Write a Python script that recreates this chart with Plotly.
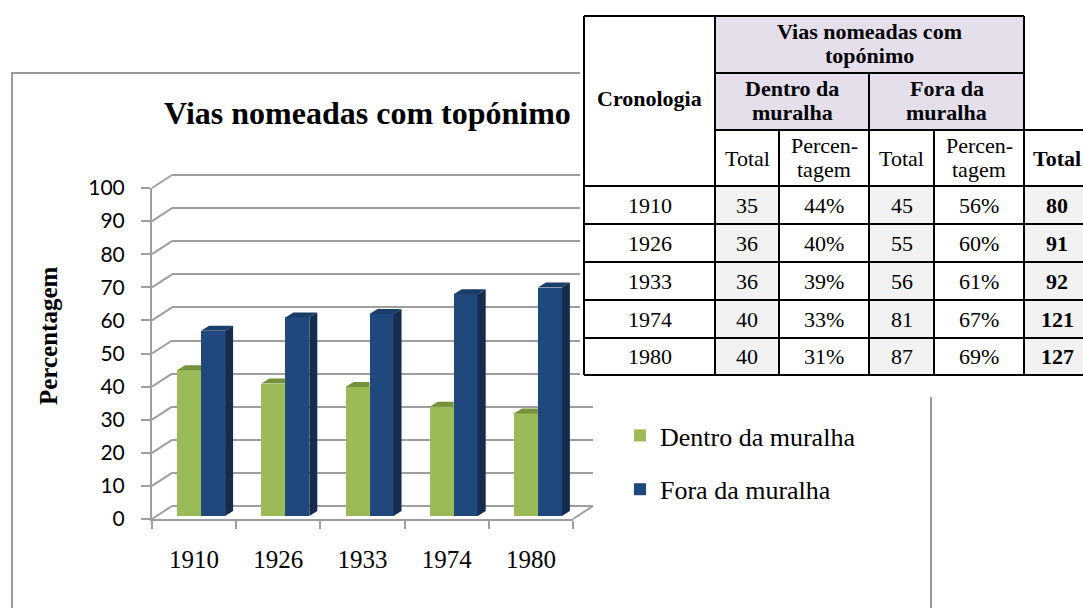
import plotly.graph_objects as go

# ---------------- data ----------------
years = ["1910", "1926", "1933", "1974", "1980"]
dentro_pct = [44, 40, 39, 33, 31]
fora_pct = [56, 60, 61, 67, 69]
dentro_total = [35, 36, 36, 40, 40]
fora_total = [45, 55, 56, 81, 87]
grand_total = [80, 91, 92, 121, 127]
series_names = ["Dentro da muralha", "Fora da muralha"]

# ---------------- geometry helpers ----------------
W, H = 1083, 608
def PX(x): return x / W
def PY(y): return 1 - y / H

SERIF = "Liberation Serif"
SANS = "Lato"
GRID = "#9E9E9E"
GREEN, GREEN_TOP = "#9BBB59", "#76923C"
BLUE, BLUE_TOP, BLUE_SIDE = "#1F497D", "#1B3D69", "#152C4E"

CAT_PX = 84.2      # pixels per category
VAL_PX = 3.31      # pixels per percentage unit

def xdom(left_px, r0=-0.5, r1=4.5):
    return [PX(left_px + (r0 + 0.5) * CAT_PX), PX(left_px + (r1 + 0.5) * CAT_PX)]

def ydom(zero_px, r0, r1):
    return [PY(zero_px - r0 * VAL_PX), PY(zero_px - r1 * VAL_PX)]

pos = list(range(len(years)))

fig = go.Figure()

fig.add_trace(go.Scatter(x=pos, y=[None] * len(pos), xaxis="x", yaxis="y", mode="markers",
                         showlegend=False, hoverinfo="skip"))
fig.add_trace(go.Scatter(x=pos, y=[None] * len(pos), xaxis="x2", yaxis="y2", mode="markers",
                         showlegend=False, hoverinfo="skip"))

# ---------------- bars (front faces) ----------------
BW = 0.285
OG = -0.2565
OB = OG + BW
DDX = 8 / CAT_PX
DDY = 5 / VAL_PX

fig.add_trace(go.Bar(x=pos, y=dentro_pct, width=BW, offset=OG, name=series_names[0],
                     marker=dict(color=GREEN, line=dict(width=0)), xaxis="x3", yaxis="y3",
                     legendgroup="a", hoverinfo="skip"))
fig.add_trace(go.Bar(x=pos, y=fora_pct, width=BW, offset=OB, name=series_names[1],
                     marker=dict(color=BLUE, line=dict(width=0)), xaxis="x3", yaxis="y3",
                     legendgroup="b", hoverinfo="skip"))

gx, gy, btx, bty, bsx, bsy = [], [], [], [], [], []
for i, (vg, vb) in zip(pos, zip(dentro_pct, fora_pct)):
    xl = i + OG; xr = xl + BW
    gx += [xl, xl + DDX, xr, xr, None]
    gy += [vg, vg + DDY, vg + DDY, vg, None]
    xl = i + OB; xr = xl + BW
    btx += [xl, xl + DDX, xr + DDX, xr, None]
    bty += [vb, vb + DDY, vb + DDY, vb, None]
    bsx += [xr, xr + DDX, xr + DDX, xr, None]
    bsy += [0, DDY, vb + DDY, vb, None]

def face(xs, ys, color):
    return go.Scatter(x=xs, y=ys, fill="toself", fillcolor=color, mode="lines",
                      line=dict(width=0, color=color), xaxis="x3", yaxis="y3",
                      showlegend=False, hoverinfo="skip")

fig.add_trace(face(gx, gy, GREEN_TOP))
fig.add_trace(face(btx, bty, BLUE_TOP))
fig.add_trace(face(bsx, bsy, BLUE_SIDE))

# ---------------- axes ----------------
FRONT_X0, FRONT_Y0 = 152, 519
BACK_X0, BACK_Y0 = 172, 506
BAR_X0, BAR_Y0 = 156.6, 516

layout_axes = dict(
    xaxis=dict(domain=xdom(BACK_X0), range=[-0.5, 4.5], anchor="y", showgrid=False,
               showticklabels=False, zeroline=False, showline=False, ticks="", fixedrange=True,
               automargin=False),
    yaxis=dict(domain=ydom(BACK_Y0, -0.5, 100.5), range=[-0.5, 100.5], anchor="x",
               tickmode="linear", tick0=0, dtick=10, showgrid=True, gridcolor=GRID, gridwidth=2,
               showticklabels=False, zeroline=False, showline=False, ticks="", fixedrange=True,
               automargin=False),
    xaxis2=dict(domain=xdom(FRONT_X0), range=[-0.5, 4.5], anchor="y2", showgrid=False,
                zeroline=False, showline=True, linecolor=GRID, linewidth=2,
                tickmode="array", tickvals=pos, ticktext=years, ticks="",
                tickfont=dict(family=SERIF, size=25, color="black"), ticklabelstandoff=17,
                minor=dict(tickmode="array", tickvals=[p - 0.5 for p in pos] + [pos[-1] + 0.5],
                           ticks="outside", ticklen=8, tickwidth=2, tickcolor=GRID, showgrid=False),
                fixedrange=True, automargin=False),
    yaxis2=dict(domain=ydom(FRONT_Y0, 0, 100), range=[0, 100], anchor="x2",
                tickmode="linear", tick0=0, dtick=10, ticks="outside", ticklen=9, tickwidth=2,
                tickcolor=GRID, showline=True, linecolor=GRID, linewidth=2, showgrid=False,
                zeroline=False, tickfont=dict(family=SANS, size=21, color="black"),
                ticklabelstandoff=12, fixedrange=True, automargin=False),
    xaxis3=dict(domain=xdom(BAR_X0), range=[-0.5, 4.5], anchor="y3", visible=False,
                fixedrange=True, automargin=False),
    yaxis3=dict(domain=ydom(BAR_Y0, 0, 100), range=[0, 100], anchor="x3", visible=False,
                fixedrange=True, automargin=False),
)

# ---------------- shapes ----------------
shapes = []
shapes.append(dict(type="rect", xref="paper", yref="paper", x0=PX(12), y0=PY(73), x1=PX(931),
                   y1=PY(640), line=dict(color="#9A9A9A", width=2), fillcolor="rgba(0,0,0,0)",
                   layer="below"))
for v in range(0, 101, 10):
    shapes.append(dict(type="line", xref="paper", yref="paper",
                       x0=PX(FRONT_X0), y0=PY(FRONT_Y0 - v * VAL_PX),
                       x1=PX(BACK_X0), y1=PY(BACK_Y0 - v * VAL_PX),
                       line=dict(color=GRID, width=2), layer="below"))
shapes.append(dict(type="line", xref="paper", yref="paper",
                   x0=PX(FRONT_X0 + 5 * CAT_PX), y0=PY(FRONT_Y0),
                   x1=PX(BACK_X0 + 5 * CAT_PX), y1=PY(BACK_Y0),
                   line=dict(color=GRID, width=2), layer="below"))

shapes.append(dict(type="rect", xref="paper", yref="paper", x0=PX(580), y0=PY(0), x1=1,
                   y1=PY(397), fillcolor="white", line=dict(width=0), layer="above"))

# ---------------- table ----------------
col_edges = [584, 715, 779, 869, 934, 1024, 1090]
row_edges = [16, 73, 130, 186, 224, 262, 300, 338, 375]
PURPLE = "#E5DFEC"
LIGHT = "#F2F2F2"

def rect(x0, y0, x1, y1, color):
    shapes.append(dict(type="rect", xref="paper", yref="paper", x0=PX(x0), y0=PY(y0),
                       x1=PX(min(x1, W)), y1=PY(y1), fillcolor=color, line=dict(width=0),
                       layer="above"))

def hline(y, x0, x1):
    shapes.append(dict(type="line", xref="paper", yref="paper", x0=PX(x0), x1=PX(min(x1, W)),
                       y0=PY(y), y1=PY(y), line=dict(color="black", width=2), layer="above"))

def vline(x, y0, y1):
    shapes.append(dict(type="line", xref="paper", yref="paper", x0=PX(x), x1=PX(x),
                       y0=PY(y0), y1=PY(y1), line=dict(color="black", width=2), layer="above"))

rect(col_edges[1], row_edges[0], col_edges[5], row_edges[2], PURPLE)
for c in (1, 3, 5):
    rect(col_edges[c], row_edges[3], col_edges[c + 1], row_edges[-1], LIGHT)

hline(row_edges[0], col_edges[0], col_edges[5])
hline(row_edges[1], col_edges[1], col_edges[5])
hline(row_edges[2], col_edges[1], col_edges[6])
for r in row_edges[3:]:
    hline(r, col_edges[0], col_edges[6])
vline(col_edges[0], row_edges[0], row_edges[-1])
vline(col_edges[1], row_edges[0], row_edges[-1])
vline(col_edges[2], row_edges[2], row_edges[-1])
vline(col_edges[3], row_edges[1], row_edges[-1])
vline(col_edges[4], row_edges[2], row_edges[-1])
vline(col_edges[5], row_edges[0], row_edges[-1])

# ---------------- annotations ----------------
ann = []
def txt(x, y, s, size=22, bold=False, family=SERIF, angle=0):
    ann.append(dict(x=PX(x), y=PY(y), xref="paper", yref="paper", showarrow=False,
                    text=("<b>%s</b>" % s) if bold else s, xanchor="center", yanchor="middle",
                    textangle=angle, font=dict(family=family, size=size, color="black")))

txt(367, 113, "Vias nomeadas com topónimo", size=32, bold=True)
txt(48, 336, "Percentagem", size=25, bold=True, angle=-90)

cc = [(col_edges[k] + col_edges[k + 1]) / 2 for k in range(6)]
cc[5] = 1057
txt(cc[0], 99, "Cronologia", bold=True)
txt((col_edges[1] + col_edges[5]) / 2, 31, "Vias nomeadas com", bold=True)
txt((col_edges[1] + col_edges[5]) / 2, 56, "topónimo", bold=True)
txt((col_edges[1] + col_edges[3]) / 2, 88, "Dentro da", bold=True)
txt((col_edges[1] + col_edges[3]) / 2, 113, "muralha", bold=True)
txt((col_edges[3] + col_edges[5]) / 2, 88, "Fora da", bold=True)
txt((col_edges[3] + col_edges[5]) / 2, 113, "muralha", bold=True)
txt(cc[1], 158, "Total")
txt(cc[2], 146, "Percen-")
txt(cc[2], 170, "tagem")
txt(cc[3], 158, "Total")
txt(cc[4], 146, "Percen-")
txt(cc[4], 170, "tagem")
txt(cc[5], 158, "Total", bold=True)

for r, yr in enumerate(years):
    yc = (row_edges[3 + r] + row_edges[4 + r]) / 2
    txt(cc[0], yc, yr)
    txt(cc[1], yc, str(dentro_total[r]))
    txt(cc[2], yc, "%d%%" % dentro_pct[r])
    txt(cc[3], yc, str(fora_total[r]))
    txt(cc[4], yc, "%d%%" % fora_pct[r])
    txt(cc[5], yc, str(grand_total[r]), bold=True)

fig.update_layout(
    width=W, height=H, autosize=False,
    margin=dict(l=0, r=0, t=0, b=0, pad=0, autoexpand=False),
    paper_bgcolor="white", plot_bgcolor="rgba(0,0,0,0)",
    barmode="overlay", bargap=0,
    showlegend=True,
    legend=dict(x=PX(620), xanchor="left", y=PY(412), yanchor="top",
                font=dict(family=SERIF, size=26, color="black"),
                bgcolor="rgba(0,0,0,0)", traceorder="grouped", tracegroupgap=17,
                itemclick=False, itemdoubleclick=False),
    shapes=shapes, annotations=ann,
    **layout_axes,
)

fig.write_html("out.html",
               config={"displayModeBar": False, "staticPlot": True},
               post_script="document.body.style.margin='0';document.body.style.padding='0';"
                           "document.body.style.overflow='hidden';")
